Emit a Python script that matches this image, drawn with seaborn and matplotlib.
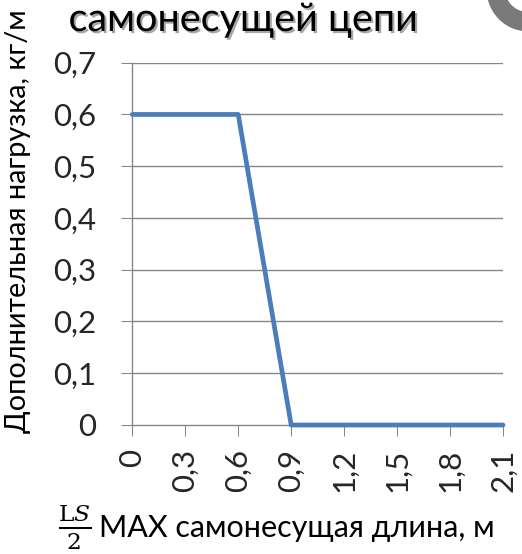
import matplotlib
matplotlib.use("Agg")
import matplotlib.pyplot as plt
import matplotlib.patheffects as pe
from matplotlib.patches import Wedge
import seaborn as sns
import pandas as pd

categories = ["0", "0,3", "0,6", "0,9", "1,2", "1,5", "1,8", "2,1"]
load_values = [0.6, 0.6, 0.6, 0.0, 0.0, 0.0, 0.0, 0.0]
y_ticks = [0, 0.1, 0.2, 0.3, 0.4, 0.5, 0.6, 0.7]
y_tick_labels = ["0", "0,1", "0,2", "0,3", "0,4", "0,5", "0,6", "0,7"]

sns.set_theme(style="white")
FONT = ["Lato", "Open Sans", "DejaVu Sans"]
plt.rcParams["font.family"] = FONT
plt.rcParams["mathtext.fontset"] = "dejavuserif"

W, H, DPI = 522, 554, 100
fig = plt.figure(figsize=(W / DPI, H / DPI), dpi=DPI)
ax = fig.add_axes([132.3 / W, 1 - 425 / H, (503 - 132.3) / W, (425 - 62.7) / H])

df = pd.DataFrame({"x": categories, "y": load_values})
sns.lineplot(data=df, x="x", y="y", sort=False, ax=ax, color="#4A7EBB",
             linewidth=3.4, solid_capstyle="round", solid_joinstyle="round",
             clip_on=False, zorder=5)

grid_c = "#868686"
ax.set_xlim(0, len(categories) - 1)
ax.set_ylim(0, 0.7)
ax.set_yticks(y_ticks)
ax.set_yticklabels(y_tick_labels)
ax.set_xticks(range(len(categories)))
ax.set_xticklabels(categories, rotation=90)
for yv in y_ticks[1:]:
    ax.axhline(yv, color=grid_c, linewidth=1.0, zorder=1)

for s in ["top", "right"]:
    ax.spines[s].set_visible(False)
for s in ["left", "bottom"]:
    ax.spines[s].set_color(grid_c)
    ax.spines[s].set_linewidth(1.0)

ax.tick_params(axis="y", direction="out", length=8, width=0.75, color=grid_c,
               labelsize=22.5, pad=18, left=True)
ax.tick_params(axis="x", direction="out", length=8, width=0.75, color=grid_c,
               labelsize=22.5, pad=9, bottom=True)
ax.set_xlabel("")
ax.set_ylabel("")

fig.text(18 / W, 1 - 221 / H, "Дополнительная нагрузка, кг/м", rotation=90,
         ha="center", va="center", fontsize=20.8, color="black")

fig.text(75 / W, 1 - 527 / H, r"$\frac{\mathrm{L}S}{2}$", ha="center",
         va="center", fontsize=24, color="black")
fig.text(99 / W, 1 - 537 / H, "MAX самонесущая длина, м", ha="left",
         va="baseline", fontsize=22, color="black")

fig.text(243 / W, 1 - 31 / H, "самонесущей цепи", ha="center", va="baseline",
         fontsize=28.5, color="black",
         path_effects=[pe.SimplePatchShadow(offset=(1.5, -1.5), alpha=0.35),
                       pe.Normal()])

ring = Wedge((527 / W, 1 + 12 / H), 40 / W, 0, 360, width=17 / W,
             transform=fig.transFigure, color="#7a7a7a")
ring.set_transform(fig.transFigure)
fig.patches.append(ring)

fig.savefig("out.png", dpi=DPI)
